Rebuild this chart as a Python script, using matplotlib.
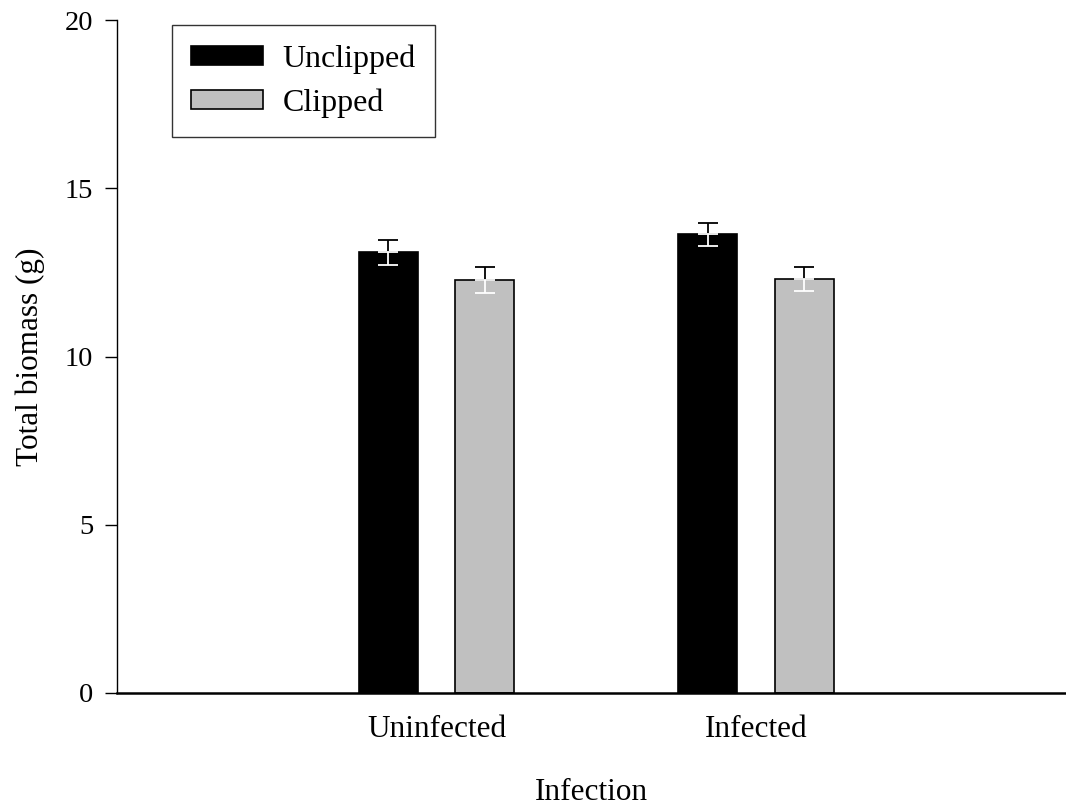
import matplotlib
matplotlib.use("Agg")
import matplotlib.pyplot as plt
import numpy as np

categories = ["Uninfected", "Infected"]
unclipped = [13.10, 13.63]
unclipped_err = [0.37, 0.35]
clipped = [12.28, 12.31]
clipped_err = [0.38, 0.35]

plt.rcParams['font.family'] = ['Liberation Serif', 'DejaVu Serif']

fig = plt.figure(figsize=(10.66, 8.06), dpi=100)
ax = fig.add_axes([117/1066, 113/806, 949/1066, 673/806])

x = np.arange(len(categories))
w = 0.185
off = 0.151

def draw(xs, vals, errs, color, label, lowcolor):
    ax.bar(xs, vals, width=w, color=color, edgecolor='black', linewidth=1.2, label=label, zorder=2)
    for xi, v, e in zip(xs, vals, errs):
        ax.errorbar([xi], [v], yerr=[[0], [e]], fmt='none', ecolor='black', elinewidth=1.3, capsize=7, capthick=1.3, zorder=3)
        ax.errorbar([xi], [v], yerr=[[e], [0]], fmt='none', ecolor=lowcolor, elinewidth=1.3, capsize=7, capthick=1.3, zorder=3)

draw(x - off, unclipped, unclipped_err, 'black', 'Unclipped', 'white')
draw(x + off, clipped, clipped_err, '#c0c0c0', 'Clipped', 'white')

ax.set_xlim(-1.0, 1.97)
ax.set_ylim(0, 20)
ax.set_yticks([0, 5, 10, 15, 20])
ax.set_xticks(x)
ax.set_xticklabels(categories)
ax.tick_params(axis='y', direction='out', length=9, width=1, labelsize=20.5, pad=8)
ax.tick_params(axis='x', length=0, labelsize=22.5, pad=16)
ax.spines['top'].set_visible(False)
ax.spines['right'].set_visible(False)
ax.spines['bottom'].set_linewidth(1.8)
ax.spines['left'].set_linewidth(1.0)

ax.set_ylabel("Total biomass (g)", fontsize=22.5, labelpad=14)
ax.set_xlabel("Infection", fontsize=22.5, labelpad=24)

leg = ax.legend(loc='upper left', bbox_to_anchor=(55/949, 668/673), borderaxespad=0, fontsize=23,
                frameon=True, fancybox=False, edgecolor='black', handlelength=2.25, handleheight=0.55,
                borderpad=0.6, labelspacing=0.45, handletextpad=0.62)
leg.get_frame().set_linewidth(1.0)

fig.savefig("out.png", dpi=100)
